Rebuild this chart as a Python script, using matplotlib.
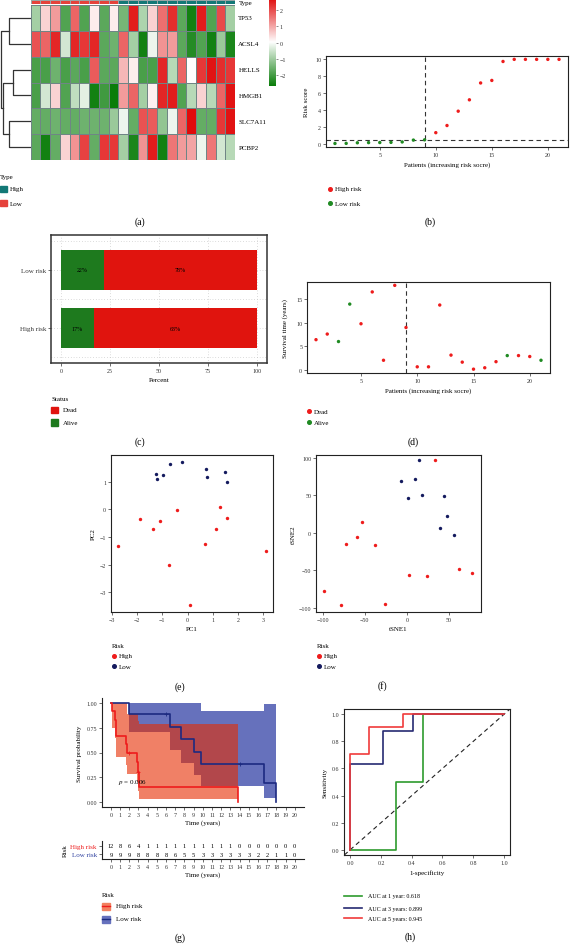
import numpy as np
import matplotlib
matplotlib.use("Agg")
import matplotlib.pyplot as plt
from matplotlib.colors import LinearSegmentedColormap, ListedColormap
from matplotlib.lines import Line2D

plt.rcParams['font.family'] = ['Liberation Serif', 'DejaVu Serif']
plt.rcParams['mathtext.fontset'] = 'stix'

# ---------------- data ----------------
genes = ["TP53", "ACSL4", "HELLS", "HMGB1", "SLC7A11", "PCBP2"]
sample_type = ["Low"] * 9 + ["High"] * 12
expr = np.array([
    [-1.0, 0.5, 1.1, -1.9, 1.7, -1.9, 0.2, -1.8, 0.2, -1.5, 2.5, -0.9, 0.5, 1.6, 2.3, -1.8, -2.6, 2.5, -1.9, 2.0, -1.0],
    [1.9, 1.7, 2.4, -0.5, 2.4, 2.2, 2.4, -1.8, -1.6, 1.7, -1.0, -2.6, -0.2, 1.2, 1.1, -1.8, -2.4, -1.9, -2.6, -1.1, -2.5],
    [-2.0, -2.0, -1.6, -2.0, -1.8, -2.0, 1.8, -1.8, -1.8, 0.8, 0.2, -2.0, -2.0, 2.4, -0.8, 1.7, 0.0, 2.2, 2.6, 2.3, 2.2],
    [-2.0, -0.5, 0.5, -1.9, -0.7, -0.3, -2.6, -2.1, -2.7, 1.1, 1.7, -1.0, 0.15, 2.4, 2.5, -1.9, -0.8, 0.5, -0.8, 1.7, 2.6],
    [-1.7, -1.7, -1.6, -1.7, -1.7, -1.6, -1.6, -1.6, -1.1, -0.2, -1.7, 1.9, 1.8, -1.2, -0.2, 1.7, 2.7, -1.7, -1.7, 2.2, 2.6],
    [-1.8, -2.6, -1.7, 0.5, 1.2, 2.1, -1.7, 2.2, 2.2, -1.0, -2.5, 1.2, 2.5, -2.6, 1.5, 1.1, 1.0, -0.2, 1.5, -0.5, -0.8],
])
# row clustering: (left rows, right rows, merge height)
row_merges = [([0], [1], 0.71), ([2], [3], 0.60), ([4], [5], 0.73),
              ([2, 3], [4, 5], 0.91), ([0, 1], [2, 3, 4, 5], 1.0)]

patients = np.arange(1, 22)
risk_score = [0.02, 0.03, 0.1, 0.12, 0.13, 0.15, 0.2, 0.42, 0.45, 1.3, 2.15,
              3.85, 5.2, 7.2, 7.5, 9.75, 10, 10, 10, 10, 10]
risk_group = ["Low"] * 9 + ["High"] * 12
risk_cutoff = 0.45

surv_time = [6.4, 7.6, 6.0, 14.0, 9.8, 16.6, 2.0, 18.0, 9.0, 0.6, 0.6,
             13.8, 3.1, 1.6, 0.1, 0.4, 1.7, 3.0, 3.0, 2.8, 2.0]
surv_status = ["Dead", "Dead", "Alive", "Alive", "Dead", "Dead", "Dead", "Dead", "Dead", "Dead", "Dead",
               "Dead", "Dead", "Dead", "Dead", "Dead", "Dead", "Alive", "Dead", "Dead", "Alive"]

bar_groups = ["High risk", "Low risk"]
alive_pct = [16.7, 22.2]
dead_pct = [83.3, 77.8]
alive_lbl = ["17%", "22%"]
dead_lbl = ["63%", "78%"]

pc1_low = [-1.26, -1.21, -0.96, -0.70, -0.23, 0.72, 0.77, 1.47, 1.57]
pc2_low = [1.27, 1.11, 1.24, 1.65, 1.71, 1.47, 1.17, 1.34, 0.98]
pc1_high = [-2.75, -1.89, -1.37, -1.10, -0.42, -0.73, 0.08, 0.70, 1.14, 1.27, 1.55, 3.11]
pc2_high = [-1.33, -0.36, -0.71, -0.41, -0.04, -2.01, -3.45, -1.27, -0.70, 0.08, -0.33, -1.52]

tsne1_low = [14.1, -7.4, 9.0, 1.6, 18.4, 43.8, 47.7, 39.8, 55.9]
tsne2_low = [96.8, 68.6, 72.3, 45.9, 50.5, 48.6, 21.8, 5.9, -3.6]
tsne1_high = [32.8, -53.1, -59.4, -72.7, -38.3, 2.0, 23.4, 61.3, 77.7, -98.4, -78.5, -25.8]
tsne2_high = [96.8, 15.0, -5.5, -15.5, -16.8, -56.4, -57.3, -48.2, -54.5, -77.3, -97.3, -95.0]

km_high_t = [0, 0.1, 0.4, 0.6, 1.6, 1.7, 2.8, 3.0, 3.1, 13.8]
km_high_s = [1, 0.917, 0.833, 0.667, 0.583, 0.5, 0.4, 0.3, 0.15, 0]
km_high_lo = [1, 0.75, 0.65, 0.45, 0.37, 0.28, 0.20, 0.11, 0.03, 0.03]
km_high_hi = [1, 1, 1, 1, 1, 0.89, 0.89, 0.82, 0.79, 0.79]
km_high_cens = ([2.0, 3.0], [0.5, 0.3])
km_low_t = [0, 2.0, 6.4, 7.6, 9.0, 9.8, 16.6, 18.0]
km_low_s = [1, 0.889, 0.762, 0.635, 0.508, 0.381, 0.19, 0]
km_low_lo = [1, 0.71, 0.53, 0.39, 0.27, 0.16, 0.04, 0.04]
km_low_hi = [1, 1, 1, 1, 1, 0.92, 0.99, 0.99]
km_low_cens = ([6.0, 14.0], [0.889, 0.381])
table_times = np.arange(0, 21)
at_risk_high = [12, 8, 6, 4, 1, 1, 1, 1, 1, 1, 1, 1, 1, 1, 0, 0, 0, 0, 0, 0, 0]
at_risk_low = [9, 9, 9, 8, 8, 8, 8, 6, 5, 5, 3, 3, 3, 3, 3, 3, 2, 2, 1, 1, 0]
p_value = "0.006"

roc_fpr_1 = [0, 0.295, 0.295, 0.47, 0.47, 1]
roc_tpr_1 = [0, 0, 0.5, 0.5, 1.0, 1]
roc_fpr_3 = [0, 0, 0.21, 0.21, 0.41, 0.41, 1]
roc_tpr_3 = [0, 0.635, 0.635, 0.875, 0.875, 1.0, 1]
roc_fpr_5 = [0, 0, 0.12, 0.12, 0.34, 0.34, 1]
roc_tpr_5 = [0, 0.71, 0.71, 0.905, 0.905, 1.0, 1]
roc_labels = ["AUC at 1 year: 0.618", "AUC at 3 years: 0.899", "AUC at 5 years: 0.945"]

# ---------------- style ----------------
RED = '#ee1c1c'
GREEN = '#1f8a22'
NAVY = '#141a5e'
BARRED = '#e0140e'
BARGREEN = '#1e7a1e'
TS = 4.3   # tick size
LS = 5.0   # axis label size

W, H = 570, 945
fig = plt.figure(figsize=(5.7, 9.45), dpi=100)


def box(x0, y0, x1, y1):
    return fig.add_axes([x0 / W, 1 - y1 / H, (x1 - x0) / W, (y1 - y0) / H])


def ftext(x, y, s, **kw):
    kw.setdefault('fontsize', LS)
    return fig.text(x / W, 1 - y / H, s, **kw)


def style(ax, lw=0.8, color='#222222'):
    for s in ax.spines.values():
        s.set_linewidth(lw)
        s.set_color(color)
    ax.tick_params(length=2, width=0.5, pad=1.5, labelsize=TS, colors='#333333')


def dot_legend(x, y, items, title=None, size=LS, gap=11):
    yy = y
    if title:
        ftext(x, yy, title, fontsize=size, va='center')
        yy += gap
    for col, lab in items:
        fig.lines.append(Line2D([(x + 2) / W], [1 - yy / H], marker='o', ms=2.6, color=col,
                                lw=0, transform=fig.transFigure))
        ftext(x + 7, yy, lab, fontsize=size, va='center')
        yy += gap


# ---------------- (a) heatmap ----------------
cmap = LinearSegmentedColormap.from_list('gwr', ['#0a7d0a', '#ffffff', '#e00b0b'])
ax = box(30.7, 6, 235, 161)
ax.pcolormesh(expr, cmap=cmap, vmin=-2.7, vmax=2.7, edgecolors='#6f8585', linewidth=0.6)
ax.set_xlim(0, expr.shape[1])
ax.set_ylim(expr.shape[0], 0)
ax.set_xticks([])
ax.set_yticks([])
for s in ax.spines.values():
    s.set_visible(False)
for i, g in enumerate(genes):
    ax.text(expr.shape[1] + 0.35, i + 0.5, g, fontsize=LS, va='center', ha='left')

ax = box(30.7, 1, 235, 5)
type_codes = np.array([[0 if t == "Low" else 1 for t in sample_type]])
ax.pcolormesh(type_codes, cmap=ListedColormap(['#e5423b', '#127876']), edgecolors='#9aa5a5', linewidth=0.5)
ax.set_xlim(0, len(sample_type))
ax.set_xticks([])
ax.set_yticks([])
for s in ax.spines.values():
    s.set_visible(False)
ftext(239, 3.5, "Type", fontsize=LS, va='center')

# dendrogram
ax = box(0, 6, 30.7, 161)
pos = {}
hts = {}
for i in range(len(genes)):
    pos[(i,)] = i + 0.5
    hts[(i,)] = 0.0
for left, right, h in row_merges:
    lk, rk = tuple(left), tuple(right)
    ax.plot([hts[lk], h, h, hts[rk]], [pos[lk], pos[lk], pos[rk], pos[rk]], color='#333333', lw=0.9)
    key = tuple(sorted(left + right))
    pos[key] = (pos[lk] + pos[rk]) / 2
    hts[key] = h
ax.set_xlim(1.02, 0)
ax.set_ylim(len(genes), 0)
ax.axis('off')

# colorbar
ax = box(269.3, 0, 276, 87.3)
grad = np.linspace(-2.7, 2.7, 200).reshape(-1, 1)
ax.imshow(grad, cmap=cmap, aspect='auto', origin='lower', extent=[0, 1, -2.7, 2.7])
ax.set_xticks([])
ax.yaxis.tick_right()
ax.set_yticks([2, 1, 0, -1, -2])
ax.set_yticklabels(["2", "1", "0", "\u22121", "\u22122"])
ax.tick_params(axis='y', length=1.5, width=0.4, pad=1, labelsize=TS, colors='#333333')
for s in ax.spines.values():
    s.set_visible(False)

ftext(0, 178, "Type", fontsize=LS, va='center')
for yy, col, lab in [(190, '#127876', "High"), (204, '#e5423b', "Low")]:
    fig.patches.append(plt.Rectangle((0 / W, 1 - (yy + 3) / H), 6.5 / W, 6 / H, color=col,
                                     transform=fig.transFigure))
    ftext(10, yy, lab, fontsize=LS, va='center')
ftext(140, 222, "(a)", fontsize=7, ha='center', va='center')

# ---------------- (b) risk score ----------------
ax = box(326, 57, 568, 148)
cols = [GREEN if g == "Low" else RED for g in risk_group]
ax.scatter(patients, risk_score, c=cols, s=6, lw=0, zorder=3)
n_low = risk_group.count("Low")
ax.axvline(n_low, color='#333333', lw=0.8, ls=(0, (4, 3)))
ax.axhline(risk_cutoff, color='#333333', lw=0.8, ls=(0, (4, 3)))
ax.set_xlim(0.2, 21.8)
ax.set_ylim(-0.4, 10.4)
ax.set_xticks([5, 10, 15, 20])
ax.set_yticks([0, 2, 4, 6, 8, 10])
style(ax)
ax.set_xlabel("Patients (increasing risk socre)", fontsize=LS, labelpad=3)
ax.set_ylabel("Risk score", fontsize=LS, labelpad=4)
dot_legend(328, 190, [(RED, "High risk"), (GREEN, "Low risk")], gap=14)
ftext(430, 222, "(b)", fontsize=7, ha='center', va='center')

# ---------------- (c) status bars ----------------
ax = box(51, 236, 266.5, 364)
ypos = np.arange(1, len(bar_groups) + 1)
ax.set_axisbelow(True)
ax.grid(axis='x', color='#bbbbbb', lw=0.5, ls=(0, (1, 3)))
for yg in [0.5, 1, 1.5, 2, 2.5]:
    ax.axhline(yg, color='#bbbbbb', lw=0.5, ls=(0, (1, 3)), zorder=0)
ax.barh(ypos, alive_pct, height=0.7, color=BARGREEN, zorder=2)
ax.barh(ypos, dead_pct, left=alive_pct, height=0.7, color=BARRED, zorder=2)
for y, a, d, la, ld in zip(ypos, alive_pct, dead_pct, alive_lbl, dead_lbl):
    ax.text(a / 2, y, la, ha='center', va='center', fontsize=TS, zorder=3)
    ax.text(a + d / 2, y, ld, ha='center', va='center', fontsize=TS, zorder=3)
ax.set_xlim(-5, 105)
ax.set_ylim(0.4, 2.6)
ax.set_xticks([0, 25, 50, 75, 100])
ax.set_yticks(ypos)
ax.set_yticklabels(bar_groups)
style(ax, lw=1.1, color='#333333')
ax.tick_params(axis='y', labelsize=LS)
ax.set_xlabel("Percent", fontsize=LS, labelpad=3)
ftext(51, 400, "Status", fontsize=LS, va='center')
for yy, col, lab in [(411, BARRED, "Dead"), (423.3, BARGREEN, "Alive")]:
    fig.patches.append(plt.Rectangle((51 / W, 1 - (yy + 3.3) / H), 7 / W, 6.6 / H, color=col,
                                     transform=fig.transFigure))
    ftext(63, yy, lab, fontsize=LS, va='center')
ftext(140, 441.7, "(c)", fontsize=7, ha='center', va='center')

# ---------------- (d) survival status ----------------
ax = box(307, 283, 550, 374)
cols = [RED if s == "Dead" else GREEN for s in surv_status]
ax.scatter(patients, surv_time, c=cols, s=6, lw=0, zorder=3)
ax.axvline(n_low, color='#333333', lw=0.8, ls=(0, (4, 3)))
ax.set_xlim(0.2, 21.8)
ax.set_ylim(-0.72, 18.72)
ax.set_xticks([5, 10, 15, 20])
ax.set_yticks([0, 5, 10, 15])
style(ax)
ax.set_xlabel("Patients (increasing risk socre)", fontsize=LS, labelpad=3)
ax.set_ylabel("Survival time (years)", fontsize=LS, labelpad=6)
dot_legend(307, 412.3, [(RED, "Dead"), (GREEN, "Alive")], gap=11)
ftext(413, 441.7, "(d)", fontsize=7, ha='center', va='center')

# ---------------- (e) PCA ----------------
ax = box(111, 456, 273, 613)
ax.scatter(pc1_high, pc2_high, color=RED, s=6, lw=0, zorder=3)
ax.scatter(pc1_low, pc2_low, color=NAVY, s=6, lw=0, zorder=3)
ax.set_xlim(-3.04, 3.39)
ax.set_ylim(-3.71, 1.96)
ax.set_xticks([-3, -2, -1, 0, 1, 2, 3])
ax.set_yticks([1, 0, -1, -2, -3])
style(ax)
ax.set_xlabel("PC1", fontsize=LS, labelpad=3)
ax.set_ylabel("PC2", fontsize=LS, labelpad=3)
dot_legend(111.7, 646, [(RED, "High"), (NAVY, "Low")], title="Risk", gap=10.7)
ftext(180, 687, "(e)", fontsize=7, ha='center', va='center')

# ---------------- (f) tSNE ----------------
ax = box(316, 456, 481, 613)
ax.scatter(tsne1_high, tsne2_high, color=RED, s=6, lw=0, zorder=3)
ax.scatter(tsne1_low, tsne2_low, color=NAVY, s=6, lw=0, zorder=3)
ax.set_xlim(-107.9, 87.9)
ax.set_ylim(-106, 104)
ax.set_xticks([-100, -50, 0, 50])
ax.set_yticks([100, 50, 0, -50, -100])
style(ax)
ax.set_xlabel("tSNE1", fontsize=LS, labelpad=3)
ax.set_ylabel("tSNE2", fontsize=LS, labelpad=2)
dot_legend(316.7, 646, [(RED, "High"), (NAVY, "Low")], title="Risk", gap=10.7)
ftext(382, 686, "(f)", fontsize=7, ha='center', va='center')

# ---------------- (g) Kaplan-Meier ----------------
ax = box(101.7, 699, 304, 808)
ax.fill_between(km_low_t, km_low_lo, km_low_hi, step='post', color='#081a94', alpha=0.62, lw=0)
ax.fill_between(km_high_t, km_high_lo, km_high_hi, step='post', color='#e62b00', alpha=0.6, lw=0)
ax.step(km_low_t, km_low_s, where='post', color='#1c2a80', lw=1.2)
ax.step(km_high_t, km_high_s, where='post', color=RED, lw=1.2)
ax.plot(*km_low_cens, ls='none', marker='+', ms=3, mew=0.6, color='#1c2a80')
ax.plot(*km_high_cens, ls='none', marker='+', ms=3, mew=0.6, color=RED)
ax.text(0.8, 0.21, "$p$ = " + p_value, fontsize=LS, va='center')
ax.set_xlim(-1, 21)
ax.set_ylim(-0.05, 1.05)
ax.set_xticks(table_times)
ax.set_yticks([0, 0.25, 0.5, 0.75, 1.0])
ax.set_yticklabels(["0.00", "0.25", "0.50", "0.75", "1.00"])
for s in ['top', 'right']:
    ax.spines[s].set_visible(False)
style(ax)
ax.set_xlabel("Time (years)", fontsize=LS, labelpad=2)
ax.set_ylabel("Survival probability", fontsize=LS, labelpad=3)

# risk table
ax = box(101.7, 842, 304, 860)
for row, vals in enumerate([at_risk_high, at_risk_low]):
    for t, v in zip(table_times, vals):
        ax.text(t, 1 - row, str(v), fontsize=TS + 0.3, ha='center', va='center')
ax.set_xlim(-1, 21)
ax.set_ylim(-0.6, 1.6)
ax.set_xticks(table_times)
ax.set_yticks([1, 0])
ax.set_yticklabels(["High risk", "Low risk"])
for s in ['top', 'right']:
    ax.spines[s].set_visible(False)
style(ax)
ax.tick_params(axis='y', labelsize=LS)
for lab, col in zip(ax.get_yticklabels(), [RED, '#2c3e9e']):
    lab.set_color(col)
ax.set_xlabel("Time (years)", fontsize=LS, labelpad=2)
ax.set_ylabel("Risk", fontsize=LS, labelpad=2)

ftext(102, 896, "Risk", fontsize=LS, va='center')
for yy, fc, lc, lab in [(907, '#f2805f', RED, "High risk"), (920, '#6671bd', '#1c2a80', "Low risk")]:
    fig.patches.append(plt.Rectangle((102 / W, 1 - (yy + 3.5) / H), 8 / W, 7 / H, color=fc,
                                     transform=fig.transFigure))
    fig.lines.append(Line2D([102 / W, 110 / W], [1 - yy / H] * 2, color=lc, lw=1,
                            transform=fig.transFigure))
    ftext(116, yy, lab, fontsize=LS, va='center')
ftext(180, 938, "(g)", fontsize=7, ha='center', va='center')

# ---------------- (h) ROC ----------------
ax = box(344.3, 710, 510, 856)
ax.plot([0, 1], [0, 1], transform=ax.transAxes, color='#222222', lw=0.8, ls=(0, (4, 3)))
h1, = ax.plot(roc_fpr_1, roc_tpr_1, color='#2e9b2e', lw=1.2)
h3, = ax.plot(roc_fpr_3, roc_tpr_3, color='#262a72', lw=1.2)
h5, = ax.plot(roc_fpr_5, roc_tpr_5, color='#f03b3b', lw=1.2)
ax.set_xlim(-0.04, 1.04)
ax.set_ylim(-0.04, 1.04)
ax.set_xticks([0, 0.2, 0.4, 0.6, 0.8, 1.0])
ax.set_yticks([0, 0.2, 0.4, 0.6, 0.8, 1.0])
style(ax)
ax.set_xlabel("1-specificity", fontsize=LS, labelpad=3)
ax.set_ylabel("Sensitivity", fontsize=LS, labelpad=3)
for yy, h, lab in zip([896.7, 909.3, 919.3], [h1, h3, h5], roc_labels):
    fig.lines.append(Line2D([344 / W, 362 / W], [1 - yy / H] * 2, color=h.get_color(), lw=1.2,
                            transform=fig.transFigure))
    ftext(368, yy, lab, fontsize=TS, va='center')
ftext(410, 937, "(h)", fontsize=7, ha='center', va='center')

fig.savefig("out.png", dpi=100)
